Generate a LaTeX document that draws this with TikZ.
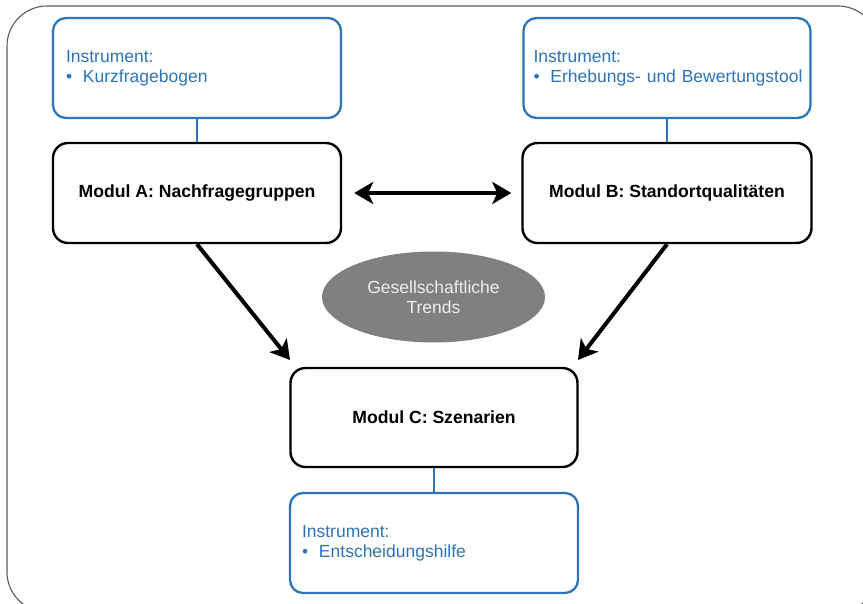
\documentclass[tikz,border=0pt]{standalone}
\usepackage{fontspec}
\setmainfont{Liberation Sans}
\usetikzlibrary{arrows.meta,shapes.geometric}
\definecolor{instblue}{RGB}{46,117,182}
\definecolor{ellgray}{RGB}{128,128,128}
\definecolor{elltext}{RGB}{238,238,238}
\definecolor{framegray}{RGB}{90,90,90}
\tikzset{
  instbox/.style={draw=instblue, line width=2.3pt, rounded corners=13pt,
    minimum width=288pt, minimum height=100pt, text width=262pt, inner xsep=13pt,
    align=left, text=instblue, font=\fontsize{17.5}{20}\selectfont},
  modbox/.style={draw=black, line width=2.4pt, rounded corners=15pt,
    minimum width=288pt, minimum height=100pt, align=center,
    font=\fontsize{17.6}{20}\selectfont\bfseries},
  trendell/.style={ellipse, fill=ellgray, draw=none, minimum width=223pt,
    minimum height=91pt, inner sep=0pt, align=center, text=elltext,
    font=\fontsize{17.5}{20}\selectfont},
  blueline/.style={draw=instblue, line width=2.3pt},
  bigarrow/.style={draw=black, line width=4pt,
    arrows={-Stealth[length=19pt, width=22pt, inset=5pt]}},
  bigdouble/.style={draw=black, line width=4pt,
    arrows={Stealth[length=19pt, width=22pt, inset=5pt]-Stealth[length=19pt, width=22pt, inset=5pt]}},
  frameline/.style={draw=framegray, line width=1.1pt, rounded corners=40pt}
}
\newcommand{\bitem}[1]{\mbox{\makebox[17pt][l]{\textbullet}#1}}
\begin{document}
\begin{tikzpicture}[x=1pt, y=-1pt]
  \clip (0,0) rectangle (863,604);
  \fill[white] (0,0) rectangle (863,604);
  \draw[frameline] (7,6) rectangle (878,612);

  \node[instbox] (instA) at (197,68) {Instrument:\\\bitem{Kurzfragebogen}};
  \node[instbox, minimum width=287pt, inner xsep=10pt, text width=267pt] (instB) at (667,68) {Instrument:\\\bitem{Erhebungs- und Bewertungstool}};
  \node[modbox] (modA) at (197,193) {Modul A: Nachfragegruppen};
  \node[modbox, minimum width=289pt] (modB) at (667,193) {Modul B: Standortqualitäten};
  \node[trendell] (trends) at (433.5,297) {Gesellschaftliche\\Trends};
  \node[modbox, minimum width=287pt, minimum height=99pt] (modC) at (434,417.5) {Modul C: Szenarien};
  \node[instbox, inner xsep=12pt, text width=264pt] (instC) at (434,543) {Instrument:\\\bitem{Entscheidungshilfe}};

  \coordinate (tipA) at (290,360);
  \coordinate (tipB) at (578,360);

  \draw[blueline] (instA.south) -- (modA.north);
  \draw[blueline] (instB.south) -- (modB.north);
  \draw[blueline] (modC.south) -- (instC.north);

  \draw[bigdouble, shorten <=12pt, shorten >=10pt] (modA.east) -- (modB.west);
  \draw[bigarrow] (modA.south) -- (tipA);
  \draw[bigarrow] (modB.south) -- (tipB);
\end{tikzpicture}
\end{document}
